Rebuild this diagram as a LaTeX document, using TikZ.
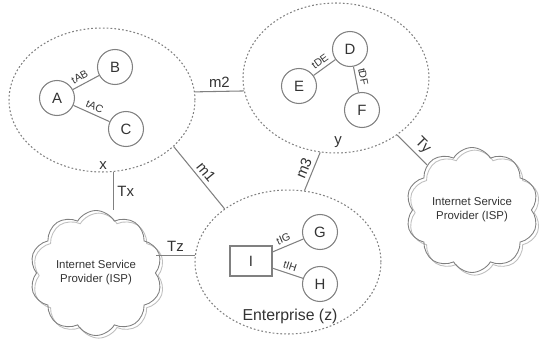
\documentclass[tikz,border=0pt]{standalone}
\usepackage{fontspec}
\setmainfont{Liberation Sans}
\usetikzlibrary{shapes.geometric,shapes.symbols,shadows}

\begin{document}
\begin{tikzpicture}[x=0.02cm,y=0.02cm,
        every node/.style={text=black!80},
        zone/.style={ellipse,draw=gray,line width=0.6pt,dash pattern=on 1pt off 1.2pt,minimum width=3.72cm,minimum height=2.88cm},
        host/.style={circle,draw=gray,line width=0.6pt,minimum size=0.7cm,inner sep=0pt,font=\fontsize{8.5}{10}\selectfont},
        isp/.style={cloud,cloud puffs=10,cloud puff arc=120,cloud ignores aspect,draw=gray,line width=0.5pt,
            minimum width=2.65cm,minimum height=2.5cm,align=center,font=\fontsize{6.5}{8}\selectfont,
            copy shadow={shadow xshift=1.5pt,shadow yshift=-1.5pt,draw=gray!50,fill=none}},
        tun/.style={font=\fontsize{6}{7}\selectfont,sloped,above,inner sep=2pt},
        lnk/.style={draw=gray,line width=0.6pt},
        lbl/.style={font=\fontsize{8.5}{10}\selectfont,inner sep=2pt}]

    \useasboundingbox (0,0) rectangle (539,339);

    % zones
    \node[zone] (L) at (102,239) {};
    \node[zone,minimum height=3cm] (M) at (336,261) {};
    \node[zone] (Z) at (288,77) {};

    % providers
    \node[isp] (ispl) at (96,66) {Internet Service\\Provider (ISP)};
    \node[isp] (ispr) at (472,129) {Internet Service\\Provider (ISP)};

    % hosts
    \node[host] (A) at (57,241) {A};
    \node[host] (B) at (115,272) {B};
    \node[host] (C) at (126,210) {C};
    \node[host] (D) at (350,290) {D};
    \node[host] (E) at (299,253) {E};
    \node[host] (F) at (362,229) {F};
    \node[host] (G) at (320,107) {G};
    \node[host] (H) at (320,55) {H};
    \node[draw=gray,line width=0.6pt,minimum width=0.84cm,minimum height=0.6cm,font=\fontsize{8.5}{10}\selectfont] (I) at (251,78) {I};

    % tunnels
    \draw[lnk] (A) -- (B) node[tun,pos=0.4] (tab) {tAB};
    \draw[lnk] (A) -- (C) node[tun,pos=0.5] (tac) {tAC};
    \draw[lnk] (E) -- (D) node[tun,pos=0.5] (tde) {tDE};
    \draw[lnk] (D) -- (F) node[tun,pos=0.45] (tdf) {tDF};
    \draw[lnk] (I) -- (G) node[tun,pos=0.45] (tig) {tIG};
    \draw[lnk] (I) -- (H) node[tun,pos=0.5] (tih) {tIH};

    % links between zones
    \draw[lnk] (L.5.6) -- (M.188) node[lbl,midway,above] (lm2) {m2};
    \draw[lnk] (L.-33.3) -- (Z.140.3) node[lbl,midway,above,sloped] (lm1) {m1};
    \draw[lnk] (M.-102) -- (Z.77) node[lbl,midway,above,sloped] (lm3) {m3};
    \draw[lnk] (M.-43.6) -- (ispr) node[lbl,pos=0.6,above,sloped] (lty) {Ty};
    \draw[lnk] (L.-81.4) -- (L.-81.4 |- ispl.north) node[lbl,midway,right] (ltx) {Tx};
    \draw[lnk] (Z.176) -- (Z.176 -| ispl.east) node[lbl,midway,above] (ltz) {Tz};

    \node[lbl] (lx) at (103,173) {x};
    \node[lbl] (ly) at (338,197) {y};
    \node[font=\fontsize{9}{11}\selectfont] (lz) at (290,23) {Enterprise (z)};
\end{tikzpicture}
\end{document}
